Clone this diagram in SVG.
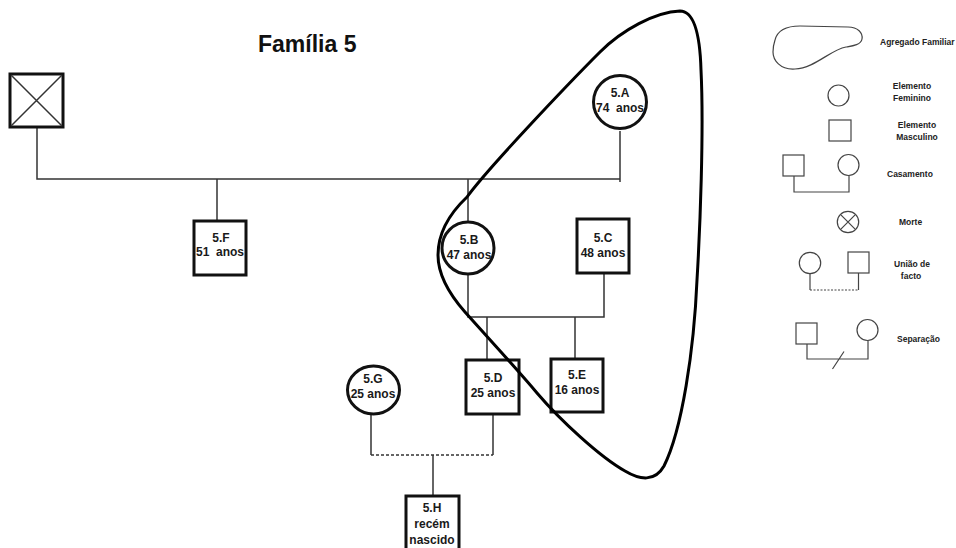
<svg xmlns="http://www.w3.org/2000/svg" width="956" height="548" viewBox="0 0 956 548">
<style>
.nb{fill:#fff;stroke:#111;stroke-width:3}
.ln{fill:none;stroke:#333;stroke-width:1.5}
.dash{stroke-dasharray:3 2}
.t{font-family:"Liberation Sans",Arial,sans-serif;font-weight:bold;font-size:12px;fill:#1a1a1a;text-anchor:middle;white-space:pre}
.lg{fill:#fff;stroke:#444;stroke-width:1.2}
.lgl{fill:none;stroke:#444;stroke-width:1.2}
.lt{font-family:"Liberation Sans",Arial,sans-serif;font-weight:bold;font-size:8.5px;fill:#222}
.lc{text-anchor:middle}
</style>
<rect width="956" height="548" fill="#fff"/>
<text x="258" y="52" font-family="Liberation Sans, Arial, sans-serif" font-weight="bold" font-size="23" fill="#111">Família 5</text>

<g id="connectors">
<path class="ln" d="M37,127 V179 H620"/>
<path class="ln" d="M620,131 V182"/>
<path class="ln" d="M217,179 V221"/>
<path class="ln" d="M468,179 V221"/>
<path class="ln" d="M468,275 V317 H604 V273"/>
<path class="ln" d="M487,317 V360"/>
<path class="ln" d="M575,317 V359"/>
<path class="ln" d="M371,413 V455"/>
<path class="ln" d="M493,414 V455"/>
<path class="ln dash" d="M371,455 H493"/>
<path class="ln" d="M433,455 V496"/>
</g>

<g id="deceased">
<rect class="nb" x="10" y="74" width="53" height="53"/>
<path class="ln" d="M11,75 L62,126 M62,75 L11,126"/>
</g>
<g id="n5A"><circle class="nb" cx="620" cy="102" r="26.5"/><text class="t" x="620" y="97">5.A</text><text class="t" x="620" y="112">74  anos</text></g>
<g id="n5B"><circle class="nb" cx="468" cy="248" r="26"/><text class="t" x="469" y="244">5.B</text><text class="t" x="469" y="259">47 anos</text></g>
<g id="n5C"><rect class="nb" x="577" y="219" width="52" height="54"/><text class="t" x="603" y="242">5.C</text><text class="t" x="603" y="257">48 anos</text></g>
<g id="n5F"><rect class="nb" x="194" y="221" width="52" height="54"/><text class="t" x="221" y="242">5.F</text><text class="t" x="220" y="256">51  anos</text></g>
<g id="n5D"><rect class="nb" x="466" y="360" width="53" height="54"/><text class="t" x="493" y="382">5.D</text><text class="t" x="493" y="397">25 anos</text></g>
<g id="n5E"><rect class="nb" x="551" y="359" width="52" height="53"/><text class="t" x="577" y="379">5.E</text><text class="t" x="577" y="394">16 anos</text></g>
<g id="n5G"><ellipse class="nb" cx="373.5" cy="390" rx="26" ry="24"/><text class="t" x="373" y="383">5.G</text><text class="t" x="373" y="398">25 anos</text></g>
<g id="n5H"><rect class="nb" x="406" y="496" width="53" height="58"/><text class="t" x="432" y="512">5.H</text><text class="t" x="432" y="528">recém</text><text class="t" x="432" y="544">nascido</text></g>

<g id="agregado">
<path fill="none" stroke="#000" stroke-width="3" d="M438,255 C438,235 448,215 467,197 C487,169 570,82 600,52 C622,30 655,12 680,11 C694,11 700,35 701,70 C704,130 700,230 697,280 C694,350 682,430 664,466 C655,482 640,480 625,471 C600,457 560,420 537,393 C515,367 490,340 465,312 C450,295 438,275 438,255 Z"/>
</g>

<g id="legend">
<g id="lg-agregado">
<path class="lgl" d="M775,40 C778,28 790,26 800,26 L848,27 C858,27 863,33 862,39 C861,45 852,46 846,47 C830,50 815,68 795,69 C780,70 773,60 773,52 C773,46 774,43 775,40 Z"/>
<text class="lt" x="880" y="45">Agregado Familiar</text>
</g>
<g id="lg-fem"><circle class="lg" cx="838.5" cy="95.5" r="10.5"/><text class="lt lc" x="912" y="89">Elemento</text><text class="lt lc" x="912" y="101">Feminino</text></g>
<g id="lg-masc"><rect class="lg" x="829" y="120" width="22" height="21"/><text class="lt lc" x="917" y="128">Elemento</text><text class="lt lc" x="917" y="140">Masculino</text></g>
<g id="lg-casamento"><rect class="lg" x="783" y="155" width="21" height="21"/><circle class="lg" cx="848.5" cy="165" r="10.5"/><path class="lgl" d="M794,176 V192 H849 V175.5"/><text class="lt" x="887" y="177">Casamento</text></g>
<g id="lg-morte"><circle class="lg" cx="848" cy="222" r="10.7"/><path class="lgl" d="M840.4,214.4 L855.6,229.6 M855.6,214.4 L840.4,229.6"/><text class="lt" x="899" y="225">Morte</text></g>
<g id="lg-uniao"><circle class="lg" cx="810" cy="263" r="10.7"/><rect class="lg" x="848" y="252" width="21" height="21"/><path class="lgl" d="M810,273.7 V290 M858.5,273 V290"/><path class="lgl" stroke-dasharray="2 1.5" d="M810,290 H858.5"/><text class="lt lc" x="912" y="267">União de</text><text class="lt lc" x="911" y="279">facto</text></g>
<g id="lg-separacao"><rect class="lg" x="796" y="323" width="21" height="21"/><circle class="lg" cx="867.5" cy="330" r="10.5"/><path class="lgl" d="M807,344 V359 H868 V340.5 M832.5,369 L844,351.5"/><text class="lt" x="897" y="342">Separação</text></g>
</g>
</svg>
